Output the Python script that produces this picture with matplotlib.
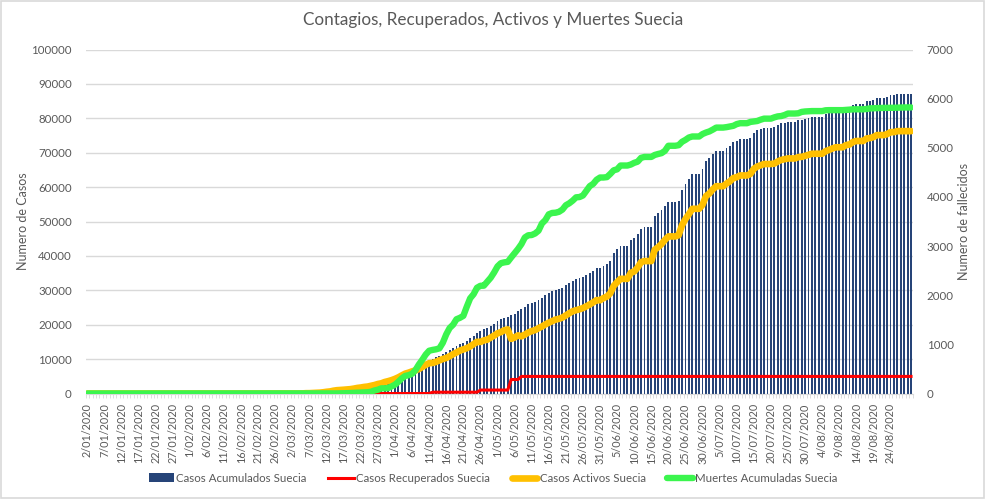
import numpy as np
import pandas as pd
import matplotlib
matplotlib.use("Agg")
import matplotlib.pyplot as plt
from matplotlib.patches import Rectangle

plt.rcParams["font.family"] = ["Lato", "DejaVu Sans"]

# categorias: un dia por barra, del 2/01/2020 al 30/08/2020
fechas = pd.date_range("2020-01-02", "2020-08-30", freq="D")
etiquetas = [f"{d.day}/{d.month:02d}/{d.year}" for d in fechas]

casos_acumulados = [
    0, 0, 0, 0, 0, 0, 0, 0, 0, 0,
    0, 0, 0, 0, 0, 0, 0, 0, 0, 0,
    0, 0, 0, 0, 0, 0, 0, 0, 0, 0,
    1, 1, 1, 1, 1, 1, 1, 1, 1, 1,
    1, 1, 1, 1, 1, 1, 1, 1, 1, 1,
    1, 1, 1, 1, 1, 1, 2, 7, 7, 12,
    14, 15, 21, 35, 94, 101, 161, 203, 248, 355,
    500, 599, 814, 961, 1022, 1103, 1190, 1279, 1439, 1639,
    1763, 1934, 2046, 2286, 2526, 2840, 3069, 3447, 3700, 4028,
    4435, 4947, 5568, 6131, 6443, 6830, 7206, 7693, 8419, 9141,
    9685, 10151, 10483, 10948, 11445, 11927, 12540, 13216, 13822, 14385,
    14777, 15322, 16004, 16755, 17567, 18177, 18640, 18926, 19621, 20302,
    21092, 21520, 22082, 22317, 22721, 23216, 23918, 24623, 25265, 25921,
    26322, 26670, 27272, 27909, 28582, 29207, 29677, 30143, 30377, 30799,
    31523, 32172, 32809, 33188, 33459, 33843, 34440, 35088, 35727, 36476,
    36476, 37113, 37542, 38589, 40803, 41883, 42939, 42939, 42939, 44730,
    45133, 46299, 47957, 48288, 48288, 48288, 51614, 52383, 53323, 54562,
    55672, 55672, 55672, 56043, 59060, 60837, 62324, 63890, 63890, 63890,
    65137, 67667, 68451, 69692, 70639, 70639, 70639, 71419, 72061, 73061,
    73344, 73858, 73858, 73858, 74333, 75826, 76492, 76877, 77281, 77281,
    77281, 77422, 78048, 78504, 78763, 78997, 78997, 78997, 79395, 79494,
    79782, 80100, 80422, 80422, 80422, 80422, 81181, 81540, 81967, 82323,
    82323, 82323, 82972, 83126, 83860, 84160, 84160, 84160, 84900, 85030,
    85320, 85900, 85900, 85900, 86190, 86770, 86770, 87060, 87060, 87060,
    87060, 87060,
]

casos_recuperados = [
    0, 0, 0, 0, 0, 0, 0, 0, 0, 0,
    0, 0, 0, 0, 0, 0, 0, 0, 0, 0,
    0, 0, 0, 0, 0, 0, 0, 0, 0, 0,
    0, 0, 0, 0, 0, 0, 0, 0, 0, 0,
    0, 0, 0, 0, 0, 0, 0, 0, 0, 0,
    0, 0, 0, 0, 0, 0, 0, 0, 0, 0,
    0, 0, 0, 0, 0, 0, 0, 0, 0, 0,
    0, 0, 0, 0, 0, 0, 0, 0, 0, 0,
    0, 0, 0, 0, 0, 0, 0, 0, 0, 0,
    0, 0, 0, 0, 0, 0, 0, 0, 0, 0,
    0, 381, 381, 381, 381, 381, 381, 381, 381, 381,
    381, 381, 381, 381, 381, 1005, 1005, 1005, 1005, 1005,
    1005, 1005, 1005, 1005, 4074, 4074, 4074, 4971, 4971, 4971,
    4971, 4971, 4971, 4971, 4971, 4971, 4971, 4971, 4971, 4971,
    4971, 4971, 4971, 4971, 4971, 4971, 4971, 4971, 4971, 4971,
    4971, 4971, 4971, 4971, 4971, 4971, 4971, 4971, 4971, 4971,
    4971, 4971, 4971, 4971, 4971, 4971, 4971, 4971, 4971, 4971,
    4971, 4971, 4971, 4971, 4971, 4971, 4971, 4971, 4971, 4971,
    4971, 4971, 4971, 4971, 4971, 4971, 4971, 4971, 4971, 4971,
    4971, 4971, 4971, 4971, 4971, 4971, 4971, 4971, 4971, 4971,
    4971, 4971, 4971, 4971, 4971, 4971, 4971, 4971, 4971, 4971,
    4971, 4971, 4971, 4971, 4971, 4971, 4971, 4971, 4971, 4971,
    4971, 4971, 4971, 4971, 4971, 4971, 4971, 4971, 4971, 4971,
    4971, 4971, 4971, 4971, 4971, 4971, 4971, 4971, 4971, 4971,
    4971, 4971,
]

casos_activos = [
    0, 0, 0, 0, 0, 0, 0, 0, 0, 0,
    0, 0, 0, 0, 0, 0, 0, 0, 0, 0,
    0, 0, 0, 0, 0, 0, 0, 0, 0, 0,
    1, 1, 1, 1, 1, 1, 1, 1, 1, 1,
    1, 1, 1, 1, 1, 1, 1, 1, 1, 1,
    1, 1, 1, 1, 1, 1, 2, 7, 7, 12,
    14, 15, 21, 35, 94, 101, 161, 203, 248, 355,
    499, 598, 813, 959, 1019, 1097, 1183, 1269, 1428, 1623,
    1743, 1913, 2021, 2250, 2464, 2763, 2964, 3342, 3590, 3882,
    4255, 4708, 5260, 5773, 6070, 6429, 6729, 7102, 7732, 8348,
    8815, 8883, 9203, 9648, 10031, 10343, 10826, 11435, 11930, 12464,
    12816, 13176, 13686, 14353, 15034, 14980, 15441, 15647, 16261, 16835,
    17501, 17862, 18408, 18633, 15878, 16288, 16903, 16612, 17119, 17730,
    18126, 18443, 18988, 19478, 20082, 20590, 21032, 21493, 21708, 22085,
    22721, 23330, 23913, 24225, 24490, 24843, 25344, 25897, 26490, 27155,
    27110, 27747, 28168, 29150, 31290, 32350, 33329, 33329, 33329, 35100,
    35468, 36611, 38191, 38503, 38503, 38503, 41789, 42538, 43461, 44652,
    45660, 45660, 45660, 46019, 48967, 50705, 52144, 53689, 53689, 53689,
    54886, 57386, 58147, 59351, 60257, 60257, 60257, 61028, 61657, 62643,
    62891, 63387, 63387, 63387, 63836, 65319, 65976, 66334, 66717, 66717,
    66717, 66832, 67438, 67887, 68125, 68329, 68329, 68329, 68722, 68793,
    69072, 69386, 69704, 69704, 69704, 69704, 70447, 70803, 71233, 71586,
    71586, 71586, 72231, 72379, 73106, 73406, 73406, 73406, 74139, 74257,
    74544, 75119, 75117, 75117, 75407, 75986, 75985, 76272, 76269, 76268,
    76268, 76268,
]

muertes_acumuladas = [
    0, 0, 0, 0, 0, 0, 0, 0, 0, 0,
    0, 0, 0, 0, 0, 0, 0, 0, 0, 0,
    0, 0, 0, 0, 0, 0, 0, 0, 0, 0,
    0, 0, 0, 0, 0, 0, 0, 0, 0, 0,
    0, 0, 0, 0, 0, 0, 0, 0, 0, 0,
    0, 0, 0, 0, 0, 0, 0, 0, 0, 0,
    0, 0, 0, 0, 0, 0, 0, 0, 0, 0,
    1, 1, 1, 2, 3, 6, 7, 10, 11, 16,
    20, 21, 25, 36, 62, 77, 105, 105, 110, 146,
    180, 239, 308, 358, 373, 401, 477, 591, 687, 793,
    870, 887, 899, 919, 1033, 1203, 1333, 1400, 1511, 1540,
    1580, 1765, 1937, 2021, 2152, 2192, 2194, 2274, 2355, 2462,
    2586, 2653, 2669, 2679, 2769, 2854, 2941, 3040, 3175, 3220,
    3225, 3256, 3313, 3460, 3529, 3646, 3674, 3679, 3698, 3743,
    3831, 3871, 3925, 3992, 3998, 4029, 4125, 4220, 4266, 4350,
    4395, 4395, 4403, 4468, 4542, 4562, 4639, 4639, 4639, 4659,
    4694, 4717, 4795, 4814, 4814, 4814, 4854, 4874, 4891, 4939,
    5041, 5041, 5041, 5053, 5122, 5161, 5209, 5230, 5230, 5230,
    5280, 5310, 5333, 5370, 5411, 5411, 5411, 5420, 5433, 5447,
    5482, 5500, 5500, 5500, 5526, 5536, 5545, 5572, 5593, 5593,
    5593, 5619, 5639, 5646, 5667, 5697, 5697, 5697, 5702, 5730,
    5739, 5743, 5747, 5747, 5747, 5747, 5763, 5766, 5766, 5766,
    5766, 5766, 5770, 5776, 5783, 5783, 5783, 5783, 5790, 5802,
    5805, 5810, 5812, 5812, 5812, 5813, 5814, 5817, 5820, 5821,
    5821, 5821,
]

GRIS = "#595959"
LINEA = "#d9d9d9"

x = np.arange(len(fechas))

fig = plt.figure(figsize=(9.86, 4.99), dpi=100)
fig.patches.append(Rectangle((0.001, 0.002), 0.997, 0.995, transform=fig.transFigure,
                             fill=False, edgecolor=LINEA, linewidth=1.2))

ax = fig.add_axes([0.0869, 0.2114, 0.8388, 0.6894])
barras = ax.bar(x, casos_acumulados, width=0.55, color="#264478", zorder=2)
l_rec, = ax.plot(x, casos_recuperados, color="#FF0000", linewidth=2.2,
                 solid_joinstyle="round", zorder=3)
l_act, = ax.plot(x, casos_activos, color="#FFC000", linewidth=4.8, solid_joinstyle="round",
                 solid_capstyle="round", zorder=4)

ax2 = ax.twinx()
l_mue, = ax2.plot(x, muertes_acumuladas, color="#3BF54E", linewidth=4.6,
                  solid_joinstyle="round", solid_capstyle="round")

ax.set_xlim(-0.5, len(x) - 0.5)
ax.set_ylim(0, 100000)
ax2.set_ylim(0, 7000)
ax.set_yticks(np.arange(0, 100001, 10000))
ax2.set_yticks(np.arange(0, 7001, 1000))
ax.yaxis.grid(True, color=LINEA, linewidth=1.0)
ax.set_axisbelow(True)

for s in ["top", "left", "right"]:
    ax.spines[s].set_visible(False)
    ax2.spines[s].set_visible(False)
ax2.spines["bottom"].set_visible(False)
ax.spines["bottom"].set_color(LINEA)

ax.set_xticks(x[::5][:48])
ax.set_xticklabels(etiquetas[::5][:48], rotation=90)
ax.set_xticks(np.arange(-0.5, len(x), 1), minor=True)
ax.tick_params(axis="x", which="major", length=0, pad=7, labelsize=7.8, labelcolor=GRIS)
ax.tick_params(axis="x", which="minor", length=3, color=LINEA)
ax.tick_params(axis="y", length=0, pad=10, labelsize=8.3, labelcolor=GRIS)
ax2.tick_params(axis="y", length=0, pad=10, labelsize=8.3, labelcolor=GRIS)

ax.set_ylabel("Numero de Casos", color=GRIS, fontsize=9)
ax2.set_ylabel("Numero de fallecidos", color=GRIS, fontsize=9, labelpad=3)
ax.yaxis.set_label_coords(-0.069, 0.5)
fig.suptitle("Contagios, Recuperados, Activos y Muertes Suecia", x=0.5, y=0.975,
             fontsize=12.3, color=GRIS)

fig.legend([barras, l_rec, l_act, l_mue],
           ["Casos Acumulados Suecia", "Casos Recuperados Suecia",
            "Casos Activos Suecia", "Muertes Acumuladas Suecia"],
           loc="center", bbox_to_anchor=(0.5, 0.042), ncol=4,
           frameon=False, fontsize=8.3, labelcolor=GRIS, handlelength=2.2,
           handletextpad=0.2, columnspacing=1.9)

fig.savefig("out.png", dpi=100)
